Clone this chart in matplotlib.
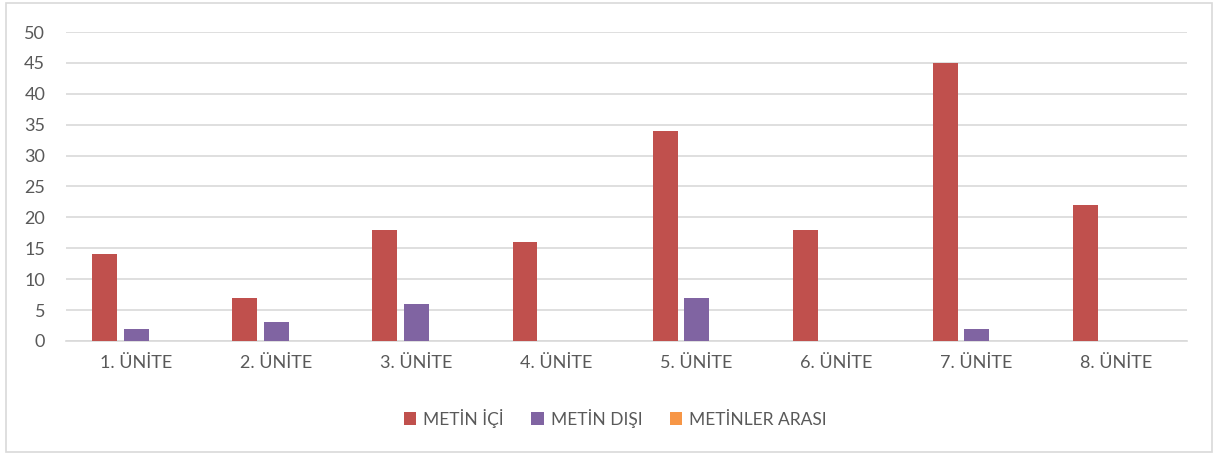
import numpy as np
import matplotlib.pyplot as plt
from matplotlib.patches import Rectangle

plt.rcParams['font.family'] = ['Lato', 'DejaVu Sans']

units = ['1. ÜNİTE', '2. ÜNİTE', '3. ÜNİTE', '4. ÜNİTE',
         '5. ÜNİTE', '6. ÜNİTE', '7. ÜNİTE', '8. ÜNİTE']
metin_ici = [14, 7, 18, 16, 34, 18, 45, 22]
metin_disi = [2, 3, 6, 0, 7, 0, 2, 0]
metinler_arasi = [0, 0, 0, 0, 0, 0, 0, 0]

series = [('METİN İÇİ', metin_ici, '#C0504D'),
          ('METİN DIŞI', metin_disi, '#8064A2'),
          ('METİNLER ARASI', metinler_arasi, '#F79646')]

text_color = '#595959'

fig = plt.figure(figsize=(12.16, 4.54), dpi=100)
fig.patches.append(Rectangle((0.005, 0.004), 0.992, 0.99, transform=fig.transFigure,
                             fill=False, edgecolor='#D9D9D9', lw=1.2))

ax = fig.add_axes([0.0543, 0.249, 0.9215, 0.6805])
x = np.arange(len(units))
w = 0.178
gap = 0.045
for i, (name, vals, col) in enumerate(series):
    offs = (i - 1) * (w + gap)
    ax.bar(x + offs, vals, width=w, color=col, label=name, zorder=3)

ax.set_xlim(-0.5, len(units) - 0.5)
ax.set_ylim(0, 50)
ax.set_yticks(range(0, 51, 5))
ax.set_xticks(x)
ax.set_xticklabels(units)
ax.yaxis.grid(True, color='#D9D9D9', lw=1.2, zorder=0)
ax.tick_params(axis='both', length=0, labelsize=13, colors=text_color)
ax.tick_params(axis='x', pad=10)
ax.tick_params(axis='y', pad=15)
for s in ['top', 'right', 'left']:
    ax.spines[s].set_visible(False)
ax.spines['bottom'].set_color('#D9D9D9')
ax.spines['bottom'].set_linewidth(1.2)

leg = fig.legend(loc='center', bbox_to_anchor=(0.506, 0.079), ncol=3, frameon=False,
                 fontsize=12.5, handlelength=0.7, handleheight=0.7,
                 handletextpad=0.4, columnspacing=1.6)
for t in leg.get_texts():
    t.set_color(text_color)

fig.savefig('out.png', dpi=100)
